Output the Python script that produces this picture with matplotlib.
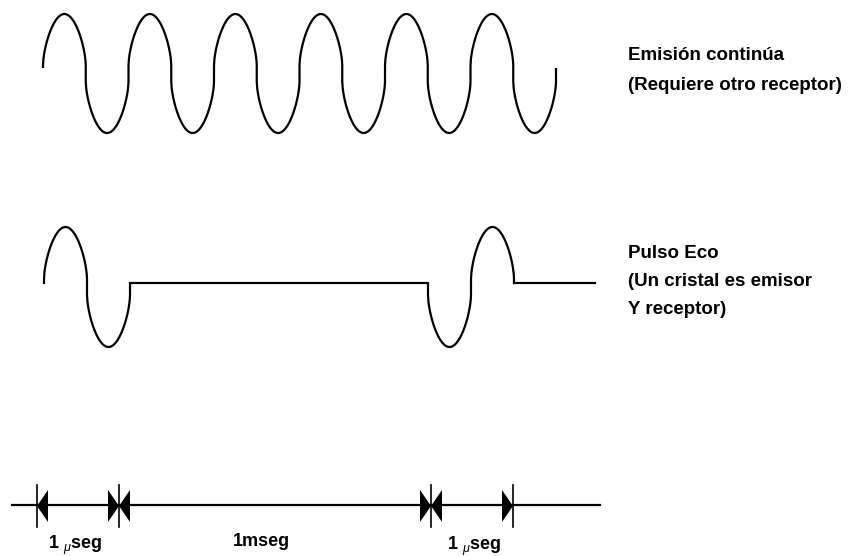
import numpy as np
import matplotlib
matplotlib.use("Agg")
import matplotlib.pyplot as plt

# canvas is in pixel units, y goes down like the original drawing
W, H = 850, 556

# the waves are drawn as rounded arches joined by short vertical strokes
# top wave: continuous emission
cont_x0 = 43
cont_signs = [1, -1] * 6      # +1 = arch up, -1 = arch down
cont_period = 85.5
cont_center = 73.5
cont_arch = 51.5              # height of each arch above its foot
cont_step = 8                 # half length of the vertical stroke
cont_end_y = 68               # where the line starts and stops

# bottom wave: pulse echo
echo_center = 287
echo_arch = 52
echo_step = 8
echo_base = 283               # level of the flat line between pulses
echo_x0 = [44, 428]           # where each pulse starts
echo_signs = [[1, -1], [-1, 1]]
echo_period = 86
echo_end = 595

arch_pow = 0.6                # < 1 makes the flanks steep, like the drawing

# time axis
axis_y = 505
axis_x = (12, 600)
tick_x = [37, 119, 431, 513]
# arrows as (tick, direction): +1 points right, -1 points left
arrows = [(37, -1), (119, 1), (119, -1), (431, 1), (431, -1), (513, 1)]
time_labels = [r"1 $_{\mu}$seg", "1mseg", r"1 $_{\mu}$seg"]
time_label_x = [75, 261, 474]
time_label_y = [545, 541, 546]

# side captions
captions = [
    ["Emisión continúa", "(Requiere otro receptor)"],
    ["Pulso Eco", "(Un cristal es emisor", "Y receptor)"],
]
caption_y = [55, 253]
caption_x = 628
caption_step = [30, 28.5]

plt.rcParams['font.family'] = ['Liberation Sans', 'DejaVu Sans']
plt.rcParams['mathtext.fontset'] = 'custom'
plt.rcParams['mathtext.it'] = 'Liberation Sans:italic'
plt.rcParams['mathtext.rm'] = 'Liberation Sans:bold'


def arches(x0, signs, period, center, arch, step):
    # chain of rounded arches, each one half a period wide
    u = np.linspace(0, 1, 200)
    xs, ys = [], []
    for k, s in enumerate(signs):
        xs.extend(x0 + (k + u) * period / 2)
        ys.extend(center - s * (step + arch * np.sin(np.pi * u) ** arch_pow))
    return xs, ys


fig = plt.figure(figsize=(W / 100, H / 100), dpi=100)
ax = fig.add_axes([0, 0, 1, 1])
ax.set_xlim(0, W)
ax.set_ylim(H, 0)
ax.axis('off')

lw = 1.6
col = 'black'

# continuous wave
xs, ys = arches(cont_x0, cont_signs, cont_period, cont_center, cont_arch, cont_step)
xs = [xs[0]] + xs + [xs[-1]]
ys = [cont_end_y] + ys + [cont_end_y]
ax.plot(xs, ys, color=col, lw=lw, solid_capstyle='butt')

# echo wave, built pulse by pulse
ex, ey = [], []
for x0, signs in zip(echo_x0, echo_signs):
    px, py = arches(x0, signs, echo_period, echo_center, echo_arch, echo_step)
    ex += [px[0]] + px + [px[-1]]
    ey += [echo_base] + py + [echo_base]
ex.append(echo_end); ey.append(echo_base)
ax.plot(ex, ey, color=col, lw=lw, solid_joinstyle='miter')

# time axis
ax.plot(axis_x, [axis_y, axis_y], color=col, lw=lw)
for tx in tick_x:
    ax.plot([tx, tx], [485, 527], color=col, lw=1.2)
for tx, d in arrows:
    ax.fill([tx, tx - d * 11, tx - d * 11], [axis_y + 1, axis_y - 15, axis_y + 17],
            color=col, lw=0)
for lab, lx, ly in zip(time_labels, time_label_x, time_label_y):
    ax.text(lx, ly, lab, ha='center', va='center', fontsize=13,
            fontweight='bold', color=col)

# captions on the right
for lines, cy, step in zip(captions, caption_y, caption_step):
    for i, line in enumerate(lines):
        ax.text(caption_x, cy + i * step, line, ha='left', va='center',
                fontsize=13.5, fontweight='bold', color=col)

plt.savefig('out.png', dpi=100)
